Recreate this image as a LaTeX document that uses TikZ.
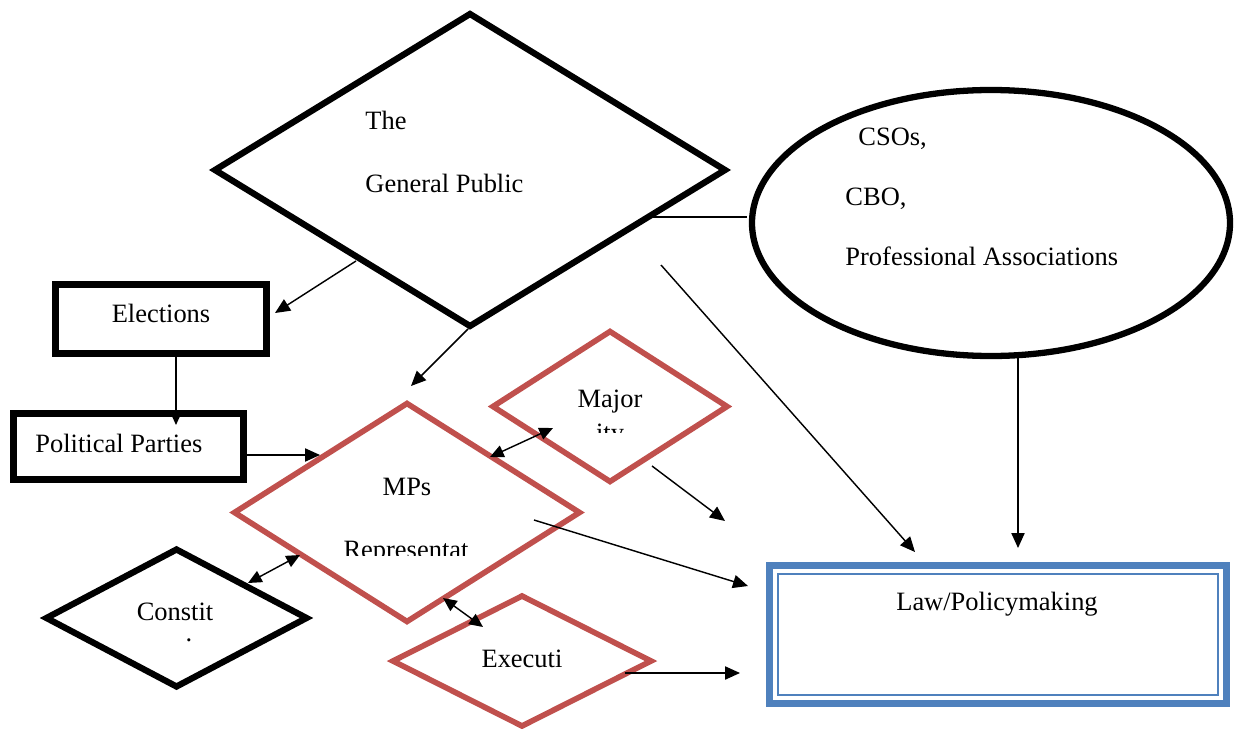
\documentclass[tikz,border=0pt]{standalone}
\usepackage{fontspec}
\setmainfont{Liberation Serif}
\usetikzlibrary{shapes.geometric,arrows.meta}
\definecolor{wordred}{HTML}{C0504D}
\definecolor{wordblue}{HTML}{4F81BD}
\newlength\pxu
\setlength\pxu{0.4535pt}

\begin{document}
\begin{tikzpicture}[x=0.4535pt, y=-0.4535pt,
  blackdiamond/.style={diamond, draw=black, line width=2.85pt, inner sep=0pt, outer sep=0pt, fill=white},
  reddiamond/.style={diamond, draw=wordred, line width=2.55pt, inner sep=0pt, outer sep=0pt, fill=white},
  blackbox/.style={rectangle, draw=black, line width=3pt, inner sep=0pt, outer sep=0pt, fill=white},
  bigellipse/.style={ellipse, draw=black, line width=2.85pt, inner sep=0pt, outer sep=0pt, fill=white},
  lawbox/.style={rectangle, draw=wordblue, line width=3.2pt, inner sep=0pt, outer sep=0pt, fill=white},
  txt/.style={font=\fontsize{12}{14}\selectfont, inner sep=0pt},
  conn/.style={line width=0.65pt},
  arr/.style={conn, -{Triangle[length=6.8pt,width=6pt]}},
  darr/.style={conn, {Triangle[length=6.2pt,width=5.6pt]}-{Triangle[length=6.2pt,width=5.6pt]}}]

\useasboundingbox (0,0) rectangle (1237,729);

% ---- shapes ----
\node[blackdiamond, minimum width=510\pxu, minimum height=312\pxu] (gp) at (470,170) {};
\node[bigellipse, minimum width=478\pxu, minimum height=266\pxu] (cso) at (991,223) {};
\node[blackbox, minimum width=211\pxu, minimum height=69\pxu] (el) at (161,319) {};
\node[blackbox, minimum width=230\pxu, minimum height=66\pxu] (pp) at (128.5,446.5) {};
\node[reddiamond, minimum width=345\pxu, minimum height=218\pxu] (mps) at (407,512.5) {};
\node[reddiamond, minimum width=234\pxu, minimum height=150\pxu] (maj) at (610,406.5) {};
\node[blackdiamond, minimum width=260\pxu, minimum height=137\pxu] (con) at (176.5,618) {};
\node[reddiamond, minimum width=258\pxu, minimum height=130\pxu] (exe) at (522,661) {};
\node[lawbox, minimum width=457\pxu, minimum height=138\pxu] (law) at (998,634.5) {};
% thin inner frame of the double border
\draw[wordblue, line width=0.9pt] ([shift={(8.5,8.5)}]law.north west) rectangle ([shift={(-8.5,-8.5)}]law.south east);

% ---- labels ----
\node[txt, anchor=base west] (gpA) at (365,130) {The};
\node[txt, anchor=base west] (gpB) at (365,192) {General Public};
\node[txt, anchor=base west] (csoA) at (858,145) {CSOs,};
\node[txt, anchor=base west] (csoB) at (845,205) {CBO,};
\node[txt, anchor=base west] (csoC) at (845,265) {Professional Associations};
\node[txt, anchor=base] (elT) at (161,322) {Elections};
\node[txt, anchor=base west] (ppT) at (35,452) {Political Parties};
\node[txt, anchor=base] (mpsA) at (407,495) {MPs};
\begin{scope}
  \clip (300,500) rectangle (520,555);
  \node[txt, anchor=base] (mpsB) at (406,558) {Representat};
\end{scope}
\node[txt, anchor=base] (majA) at (610,407) {Major};
\begin{scope}
  \clip (560,415) rectangle (660,432);
  \node[txt, anchor=base] (majB) at (610,441) {ity};
\end{scope}
\node[txt, anchor=base] (conA) at (175,620) {Constit};
\node[txt, anchor=base] (conB) at (189,641) {.};
\node[txt, anchor=base] (exeT) at (522,667) {Executi};
\node[txt, anchor=base] (lawT) at (997,610) {Law/Policymaking};

% ---- connector end points ----
\coordinate (gp-el) at (356,261);   \coordinate (el-in) at (275,313);
\coordinate (el-out) at (176,357);  \coordinate (pp-in) at (176,425);
\coordinate (pp-out) at (247,455);  \coordinate (mps-in) at (320,455);
\coordinate (gp-mps) at (468,329);  \coordinate (mps-top) at (411,386);
\coordinate (gp-law) at (661,265);  \coordinate (law-gp) at (915,552);
\coordinate (gp-cso) at (651,217);  \coordinate (cso-gp) at (747,217);
\coordinate (cso-out) at (1018,358); \coordinate (law-cso) at (1018,548);
\coordinate (maj-out) at (652,466); \coordinate (law-maj) at (725,521);
\coordinate (mps-out) at (534,520); \coordinate (law-mps) at (748,586);
\coordinate (exe-out) at (625,673); \coordinate (law-exe) at (740,673);
\coordinate (mps-maj) at (490,457); \coordinate (maj-mps) at (553,428);
\coordinate (mps-con) at (300,555); \coordinate (con-mps) at (248,583);
\coordinate (mps-exe) at (443,598); \coordinate (exe-mps) at (483,627);

% ---- connectors ----
\draw[arr] (gp-el) -- (el-in);
\draw[arr] (el-out) -- (pp-in);
\draw[arr] (pp-out) -- (mps-in);
\draw[arr] (gp-mps) -- (mps-top);
\draw[arr] (gp-law) -- (law-gp);
\draw[conn] (gp-cso) -- (cso-gp);
\draw[arr] (cso-out) -- (law-cso);
\draw[arr] (maj-out) -- (law-maj);
\draw[arr] (mps-out) -- (law-mps);
\draw[arr] (exe-out) -- (law-exe);
\draw[darr] (mps-maj) -- (maj-mps);
\draw[darr] (con-mps) -- (mps-con);
\draw[darr] (mps-exe) -- (exe-mps);
\end{tikzpicture}
\end{document}
